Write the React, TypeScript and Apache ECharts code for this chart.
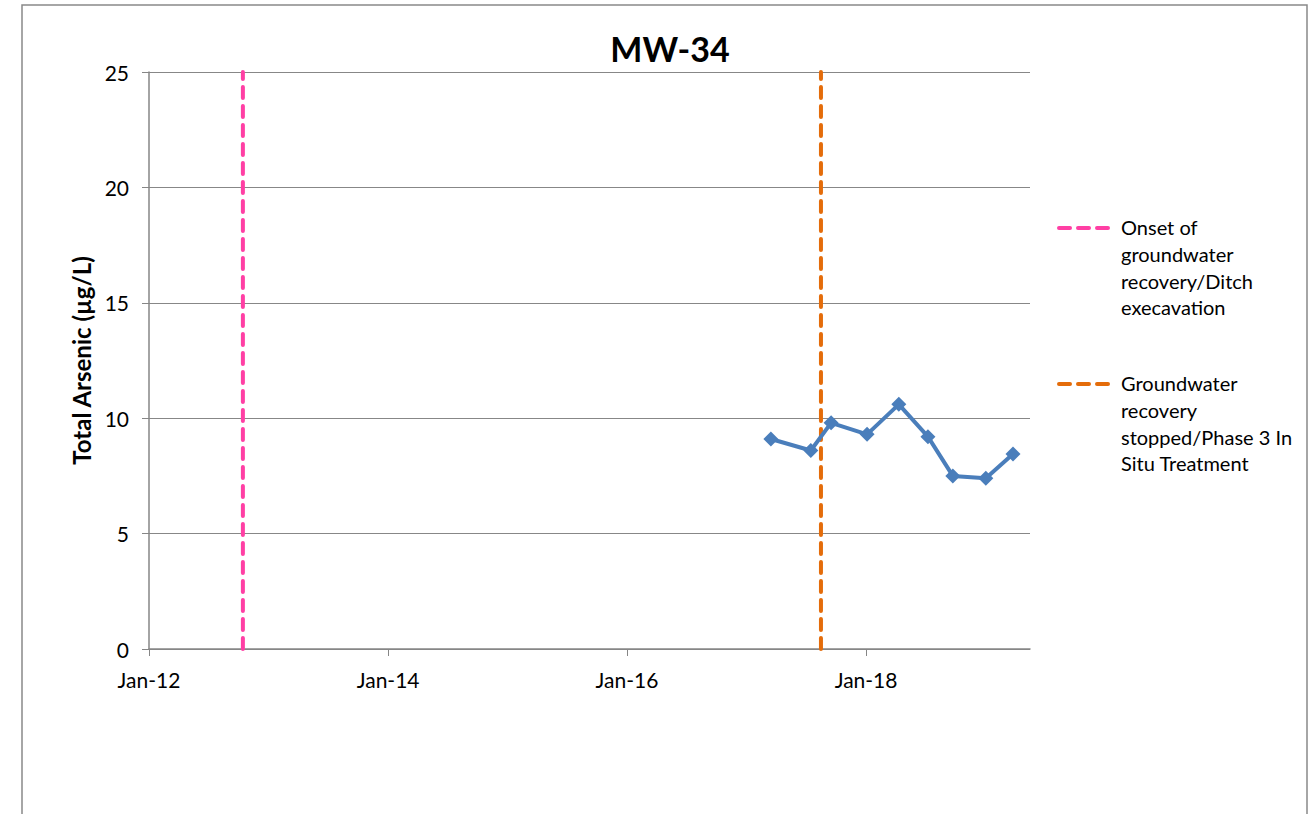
import React, { useEffect, useRef } from "react";
import * as echarts from "echarts";

const TITLE = "MW-34";
const Y_TITLE = "Total Arsenic (µg/L)";
const BASE_DATE = "2012-01-01";
const X_MAX_DATE = "2019-05-17";
const X_TICK_DATES = ["2012-01-01", "2014-01-01", "2016-01-01", "2018-01-01"];
const Y_MIN = 0;
const Y_MAX = 25;
const Y_INTERVAL = 5;

const sampleDates = [
  "2017-03-16",
  "2017-07-16",
  "2017-09-16",
  "2018-01-04",
  "2018-04-11",
  "2018-07-09",
  "2018-09-23",
  "2019-01-02",
  "2019-03-26",
];
const arsenicValues = [9.1, 8.6, 9.8, 9.3, 10.6, 9.2, 7.5, 7.4, 8.45];

const onsetDate = "2012-10-14";
const stopDate = "2017-08-16";
const onsetLabel = ["Onset of", "groundwater", "recovery/Ditch", "execavation"];
const stopLabel = ["Groundwater", "recovery", "stopped/Phase 3 In", "Situ Treatment"];

const MONTHS = ["Jan", "Feb", "Mar", "Apr", "May", "Jun", "Jul", "Aug", "Sep", "Oct", "Nov", "Dec"];

function toDays(s: string): number {
  const [y, m, d] = s.split("-").map(Number);
  const [by, bm, bd] = BASE_DATE.split("-").map(Number);
  return (Date.UTC(y, m - 1, d) - Date.UTC(by, bm - 1, bd)) / 86400000;
}

function fmtDays(v: number): string {
  const [by, bm, bd] = BASE_DATE.split("-").map(Number);
  const dt = new Date(Date.UTC(by, bm - 1, bd) + Math.round(v) * 86400000);
  return MONTHS[dt.getUTCMonth()] + "-" + String(dt.getUTCFullYear() % 100).padStart(2, "0");
}

const FONT = "Lato, 'Liberation Sans', sans-serif";

export default function App() {
  const ref = useRef<HTMLDivElement>(null);
  useEffect(() => {
    if (!ref.current) return;
    const chart = echarts.init(ref.current, undefined, { renderer: "svg" });
    const tickVals = X_TICK_DATES.map(toDays);
    const lineData = sampleDates.map((d, i) => [toDays(d), arsenicValues[i]]);
    const legendText = (lines: string[], x: number, y: number) => ({
      type: "text",
      left: x,
      top: y,
      style: {
        text: lines.join("\n"),
        font: `20px ${FONT}`,
        fill: "#000",
        lineHeight: 26.7,
      },
    });
    chart.setOption({
      animation: false,
      title: {
        text: TITLE,
        left: 665,
        top: 26,
        textAlign: "center",
        textStyle: { fontFamily: FONT, fontSize: 34, fontWeight: "bold", color: "#000" },
      },
      grid: { left: 149, top: 72, right: 280, bottom: 165 },
      xAxis: {
        type: "value",
        min: 0,
        max: toDays(X_MAX_DATE),
        interval: 730.5,
        axisLine: { lineStyle: { color: "#868686", width: 1.5 } },
        axisTick: { show: true, length: 7, lineStyle: { color: "#868686" }, customValues: tickVals },
        axisLabel: {
          customValues: tickVals,
          formatter: (v: number) => fmtDays(v),
          fontFamily: FONT,
          fontSize: 21,
          color: "#000",
          margin: 20,
        },
        splitLine: { show: false },
      },
      yAxis: {
        type: "value",
        min: Y_MIN,
        max: Y_MAX,
        interval: Y_INTERVAL,
        name: Y_TITLE,
        nameLocation: "middle",
        nameGap: 46,
        nameTextStyle: { fontFamily: FONT, fontSize: 24, fontWeight: "bold", color: "#000" },
        axisLine: { show: true, lineStyle: { color: "#868686", width: 1.5 } },
        axisTick: { show: true, length: 7, lineStyle: { color: "#868686" } },
        axisLabel: { fontFamily: FONT, fontSize: 21, color: "#000", margin: 20 },
        splitLine: { show: true, lineStyle: { color: "#878787", width: 1 } },
      },
      series: [
        {
          name: onsetLabel.join(" "),
          type: "line",
          data: [
            [toDays(onsetDate), Y_MIN],
            [toDays(onsetDate), Y_MAX],
          ],
          symbol: "none",
          lineStyle: { color: "#FF3FA4", width: 4, type: [11, 8], cap: "round" },
          z: 3,
        },
        {
          name: stopLabel.join(" "),
          type: "line",
          data: [
            [toDays(stopDate), Y_MIN],
            [toDays(stopDate), Y_MAX],
          ],
          symbol: "none",
          lineStyle: { color: "#E46C0A", width: 4, type: [11, 8], cap: "round" },
          z: 3,
        },
        {
          name: "MW-34",
          type: "line",
          data: lineData,
          symbol: "diamond",
          symbolSize: 15,
          itemStyle: { color: "#4A7EBB" },
          lineStyle: { color: "#4A7EBB", width: 4 },
          z: 4,
        },
      ],
      graphic: [
        {
          type: "rect",
          shape: { x: 22, y: 5, width: 1285, height: 820 },
          style: { fill: "none", stroke: "#898989", lineWidth: 1.5 },
          silent: true,
        },
        {
          type: "line",
          shape: { x1: 1059, y1: 228, x2: 1111, y2: 228 },
          style: { stroke: "#FF3FA4", lineWidth: 4, lineDash: [11, 8], lineCap: "round" },
        },
        legendText(onsetLabel, 1121, 214),
        {
          type: "line",
          shape: { x1: 1059, y1: 384, x2: 1111, y2: 384 },
          style: { stroke: "#E46C0A", lineWidth: 4, lineDash: [11, 8], lineCap: "round" },
        },
        legendText(stopLabel, 1121, 370),
      ],
    });
    return () => chart.dispose();
  }, []);
  return (
    <div
      ref={ref}
      style={{ position: "fixed", left: 0, top: 0, width: 1310, height: 814, background: "#fff" }}
    />
  );
}
